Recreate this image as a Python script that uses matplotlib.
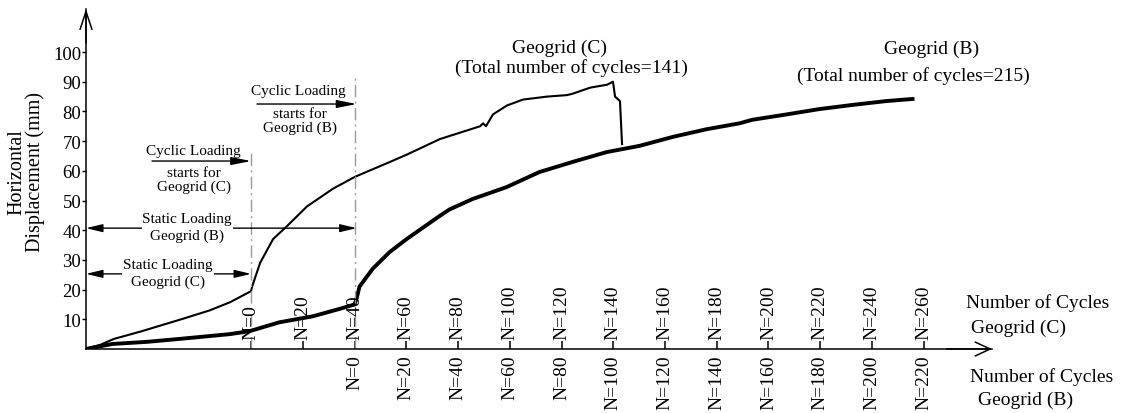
import matplotlib
matplotlib.use("Agg")
import matplotlib.pyplot as plt
import numpy as np

plt.rcParams['font.family'] = ['Liberation Serif', 'DejaVu Serif']

# ---------------- data ----------------
# Geogrid (C): x in cycles of Geogrid (C); negative values = static loading stage
c_cycles = [-64, -58, -53, -43, -27, -16, -8, 0, 0.4, 3.5, 8.5, 13.9, 21.6, 31.7,
            40.2, 53.7, 60.3, 73, 88.5, 89.7, 90.8, 93.5, 98.9, 105.1, 114.4,
            122.1, 124.4, 131, 137.6, 139.9, 140.7, 142.6, 143.4]
c_disp = [0, 1.5, 3.4, 5.8, 10, 13, 15.8, 19.5, 21, 29, 37, 41.4, 48, 54,
          58, 63, 65.5, 70.7, 75, 76, 75, 79, 82, 84, 85,
          85.5, 86, 88, 89, 90, 85, 83.5, 69]

# Geogrid (B): x in cycles of Geogrid (B); negative values = static loading stage
b_cycles = [-104, -93.5, -80.4, -67.6, -48.3, -40.6, -29, -16.2, -5.8, 0, 0.8,
            1.9, 7, 13.5, 20.1, 32.9, 36.7, 45.6, 58.7, 71.5, 84.3, 97.4,
            110.1, 122.9, 136, 148.8, 153.8, 167, 179.7, 192.5, 205.6, 215.7]
b_disp = [0, 1.7, 2.4, 3.4, 5, 6, 9, 11, 13.5, 15, 17,
          21, 27, 32.6, 37, 44.8, 47, 50.5, 54.5, 59.6, 63, 66.3,
          68.4, 71.4, 74, 76, 77.2, 79, 80.8, 82.2, 83.5, 84.2]

B_START = 40  # cycle of Geogrid (C) axis where cyclic loading of Geogrid (B) starts

c_ticks = list(range(0, 261, 20))
b_ticks = list(range(0, 221, 20))
y_ticks = list(range(10, 101, 10))

# ---------------- figure ----------------
W, H = 1126, 414
fig = plt.figure(figsize=(W / 100, H / 100), dpi=100)
ax = fig.add_axes([86 / W, 64 / H, (992 - 86) / W, (350 - 10) / H])
ax.set_xlim(-63.8, 286.4)
ax.set_ylim(0, 114.5)

ax.plot(c_cycles, c_disp, color='black', lw=1.5, solid_joinstyle='round')
ax.plot(np.array(b_cycles) + B_START, b_disp, color='black', lw=2.8,
        solid_joinstyle='round')

for s in ['top', 'right']:
    ax.spines[s].set_visible(False)
for s in ['left', 'bottom']:
    ax.spines[s].set_linewidth(1.1)

# axis arrowheads
ax.annotate('', xy=(1, 0), xytext=(0.95, 0), xycoords='axes fraction',
            arrowprops=dict(arrowstyle='->,head_length=10.8,head_width=5',
                            mutation_scale=1, lw=1.1, color='black',
                            shrinkA=0, shrinkB=0))
ax.annotate('', xy=(0, 1), xytext=(0, 0.9), xycoords='axes fraction',
            arrowprops=dict(arrowstyle='->,head_length=13,head_width=4.3',
                            mutation_scale=1, lw=1.1, color='black',
                            shrinkA=0, shrinkB=0))

# y ticks
ax.set_yticks(y_ticks)
ax.set_yticklabels([str(v) for v in y_ticks], fontsize=13.5)
ax.tick_params(axis='y', direction='out', length=3, width=1, pad=0.5)

# x ticks (marks only) + two sets of rotated labels
ax.set_xticks(c_ticks)
ax.set_xticklabels([])
ax.tick_params(axis='x', direction='in', length=6, width=1.1)
for c in c_ticks:
    ax.text(c, 3.4, f"N={c}", rotation=90, ha='center', va='bottom', fontsize=14)
for b in b_ticks:
    ax.text(b + B_START, -1.7, f"N={b}", rotation=90, ha='center', va='top',
            fontsize=14, clip_on=False)

# vertical dash-dot lines at the start of cyclic loading
ax.vlines([0], 0, 66.7, colors='#9a9a9a', linestyles=(0, (9, 3, 1.5, 3)), lw=1)
ax.vlines([B_START], 0, 92.6, colors='#9a9a9a', linestyles=(0, (9, 3, 1.5, 3)), lw=1)

small = 11
arr = dict(mutation_scale=1, lw=1, color='black', shrinkA=0, shrinkB=0)

# Cyclic loading starts for Geogrid (C)
ax.annotate('', xy=(0, 63.3), xytext=(-38.3, 63.3),
            arrowprops=dict(arrowstyle='-|>,head_length=12,head_width=2.4', **arr))
ax.text(-22.5, 66.7, 'Cyclic Loading', ha='center', va='center', fontsize=small)
ax.text(-22, 57.2, 'starts for\nGeogrid (C)', ha='center', va='center',
        fontsize=small, linespacing=1.05)

# Cyclic loading starts for Geogrid (B)
ax.annotate('', xy=(B_START + 0.8, 82.5), xytext=(2.3, 82.5),
            arrowprops=dict(arrowstyle='-|>,head_length=12,head_width=2.4', **arr))
ax.text(18.2, 86.9, 'Cyclic Loading', ha='center', va='center', fontsize=small)
ax.text(19, 77.0, 'starts for\nGeogrid (B)', ha='center', va='center',
        fontsize=small, linespacing=1.05)

# Static loading arrows
ax.annotate('', xy=(B_START + 0.8, 40.7), xytext=(-63.8, 40.7),
            arrowprops=dict(arrowstyle='<|-|>,head_length=10,head_width=2.4', **arr))
ax.text(-24.7, 41.0, 'Static Loading\nGeogrid (B)', ha='center', va='center',
        fontsize=small, linespacing=1.3,
        bbox=dict(facecolor='white', edgecolor='none', pad=0.5))
ax.annotate('', xy=(0, 25.3), xytext=(-63.8, 25.3),
            arrowprops=dict(arrowstyle='<|-|>,head_length=10,head_width=2.4', **arr))
ax.text(-32.1, 25.5, 'Static Loading\nGeogrid (C)', ha='center', va='center',
        fontsize=small, linespacing=1.35,
        bbox=dict(facecolor='white', edgecolor='none', pad=0.5))

# Series annotations
big = 14
ax.text(119.4, 101.7, 'Geogrid (C)', ha='center', va='center', fontsize=big)
ax.text(123.7, 95.0, '(Total number of cycles=141)', ha='center', va='center', fontsize=big)
ax.text(263.2, 101.3, 'Geogrid (B)', ha='center', va='center', fontsize=big, clip_on=False)
ax.text(256.2, 92.3, '(Total number of cycles=215)', ha='center', va='center', fontsize=big)

# Axis captions
ax.text(276.4, 15.8, 'Number of Cycles', ha='left', va='center', fontsize=big)
ax.text(278.3, 7.4, 'Geogrid (C)', ha='left', va='center', fontsize=big)
ax.text(277.9, -9.1, 'Number of Cycles', ha='left', va='center', fontsize=big)
ax.text(281.0, -16.8, 'Geogrid (B)', ha='left', va='center', fontsize=big)

fig.text(26 / W, 1 - 172 / H, 'Horizontal\nDisplacement (mm)', rotation=90,
         ha='center', va='center', fontsize=14.5, linespacing=0.95,
         multialignment='center')

fig.savefig('out.png', dpi=100)
